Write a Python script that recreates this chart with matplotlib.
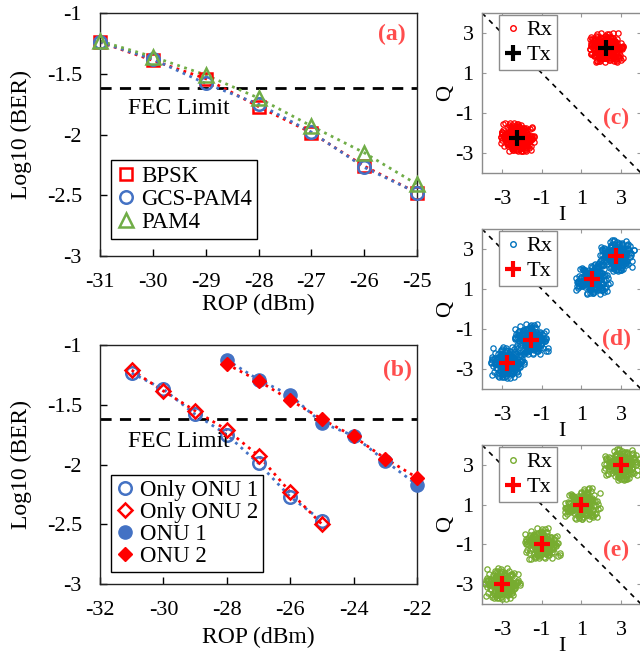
import numpy as np
import matplotlib
matplotlib.use('Agg')
import matplotlib.pyplot as plt
from matplotlib.lines import Line2D

plt.rcParams['font.family'] = ['Liberation Serif', 'DejaVu Serif']
plt.rcParams['axes.unicode_minus'] = False

# ---- panel (a): BER vs ROP for three formats ----
rop_a = [-31, -30, -29, -28, -27, -26, -25]
ber_bpsk = [-1.24, -1.39, -1.54, -1.77, -1.985, -2.26, -2.48]
ber_gcs = [-1.24, -1.38, -1.58, -1.75, -1.98, -2.27, -2.48]
ber_pam4 = [-1.23, -1.36, -1.51, -1.70, -1.93, -2.15, -2.41]

# ---- panel (b): single ONU vs two ONUs ----
rop_only = [-31, -30, -29, -28, -27, -26, -25]
ber_only1 = [-1.235, -1.37, -1.58, -1.75, -1.99, -2.27, -2.47]
ber_only2 = [-1.21, -1.385, -1.55, -1.71, -1.925, -2.23, -2.50]
rop_both = [-28, -27, -26, -25, -24, -23, -22]
ber_onu1 = [-1.125, -1.29, -1.42, -1.65, -1.76, -1.97, -2.17]
ber_onu2 = [-1.16, -1.30, -1.46, -1.62, -1.765, -1.95, -2.11]

fec_limit = -1.62

# ---- constellations (Tx symbol positions) ----
tx_c = [(-2.24, -2.24), (2.24, 2.24)]
tx_d = [(-2.75, -2.7), (-1.55, -1.55), (1.55, 1.5), (2.75, 2.65)]
tx_e = [(-3, -3), (-1, -1), (1, 1), (3, 3)]

# received noise offsets (unit spread), estimated from the clouds
noise_i = [0.12, -0.85, 1.43, -0.27, 0.66, -1.62, 0.31, -0.04, 1.05, -0.58, 0.89, -1.21,
           0.18, 2.05, -0.41, 0.73, -0.96, 0.25, -1.87, 0.52, 1.28, -0.13, -0.69, 0.94,
           -2.11, 0.37, -0.22, 1.61, -1.05, 0.08, 0.47, -0.33, 1.17, -0.78, -1.44, 0.61,
           0.03, -0.51, 1.83, -0.17, 0.79, -1.29, 0.42, -0.88, 0.15, 1.36, -0.62, -0.06,
           2.31, -1.13, 0.55, -0.29, 0.98, -1.71, 0.21, -0.45, 1.09, -0.92, 0.34, 0.71,
           -1.52, -0.11, 1.24, -0.37, 0.59, -2.02, 0.86, -0.65, 0.27, 1.51, -0.19, -1.01,
           0.44, 0.02, -0.74, 1.71, -0.48, 0.93, -1.36, 0.14, -0.24, 1.12, -0.83, 0.39,
           -1.58, 0.68, -0.09, 1.98, -0.55, 0.29, -1.18, 0.81, -0.35, 0.07, 1.33, -0.71,
           0.49, -1.93, 0.63, -0.15]
noise_q = [-0.44, 0.91, 0.17, -1.38, 0.62, -0.08, 1.27, -0.73, 0.35, -1.91, 0.54, 0.11,
           -0.97, 1.46, -0.26, 0.79, -1.12, 0.03, 2.14, -0.57, -0.31, 1.03, -1.66, 0.46,
           0.19, -0.84, 1.58, -0.12, 0.71, -1.25, -2.05, 0.38, -0.49, 1.19, 0.06, -0.68,
           0.95, -1.47, 0.24, 1.77, -0.36, -0.02, 0.83, -1.03, 0.58, -0.21, 1.35, -1.79,
           0.13, 0.67, -0.59, 1.09, -0.16, -1.31, 0.41, 2.26, -0.93, 0.28, -0.05, -1.56,
           0.74, -0.39, 1.41, -0.81, 0.09, 0.52, -1.09, 1.88, -0.27, -0.63, 0.33, -1.97,
           0.87, -0.14, 1.14, -0.46, 0.22, -1.22, 0.61, 0.99, -0.76, 0.04, 1.62, -0.53,
           -0.18, -1.41, 0.77, 0.31, -0.91, 1.22, -0.07, -0.66, 0.48, 1.69, -1.16, 0.16,
           -0.34, 0.85, -1.52, 0.36]

RED = '#ff0000'
BLUE = '#4472c4'
GREEN = '#70ad47'
LABEL_RED = '#ff4d4d'

fig = plt.figure(figsize=(6.4, 6.56), dpi=100)
W, H = 640, 656


def box(l, t, r, b):
    return [l / W, 1 - b / H, (r - l) / W, (b - t) / H]


def style_ber(ax, xlab_y):
    ax.set_ylim(-3, -1)
    ax.set_yticks([-3, -2.5, -2, -1.5, -1])
    ax.set_yticklabels(['-3', '-2.5', '-2', '-1.5', '-1'])
    ax.tick_params(direction='in', labelsize=16, length=5, width=1)
    ax.tick_params(axis='y', pad=13)
    ax.tick_params(axis='x', pad=12)
    for s in ax.spines.values():
        s.set_linewidth(1.0)
        s.set_color('#222222')
    ax.axhline(fec_limit, color='black', ls=(0, (4, 3)), lw=2)
    ax.set_xlabel('ROP (dBm)', fontsize=17)
    ax.set_ylabel('Log10 (BER)', fontsize=17)
    ax.yaxis.set_label_coords(-0.215, 0.5)
    ax.xaxis.set_label_coords(0.5, xlab_y)


# ---------- panel (a) ----------
ax = fig.add_axes(box(100, 13, 417, 256))
style_ber(ax, -0.155)
ax.set_xlim(-31, -25)
ax.set_xticks(rop_a)
ax.set_xticklabels([str(v) for v in rop_a])
ax.plot(rop_a, ber_bpsk, ls=':', color=RED, lw=2, zorder=2)
ax.plot(rop_a, ber_gcs, ls=':', color=BLUE, lw=2, zorder=2)
ax.plot(rop_a, ber_pam4, ls=':', color=GREEN, lw=2, zorder=2)
ax.plot(rop_a, ber_bpsk, ls='none', marker='s', ms=9, mfc='none', mec=RED, mew=1.8,
        label='BPSK', clip_on=False, zorder=3)
ax.plot(rop_a, ber_gcs, ls='none', marker='o', ms=9, mfc='none', mec=BLUE, mew=1.8,
        label='GCS-PAM4', clip_on=False, zorder=4)
ax.plot(rop_a, ber_pam4, ls='none', marker='^', ms=10, mfc='none', mec=GREEN, mew=1.8,
        label='PAM4', clip_on=False, zorder=5)
ax.text(-30.47, -1.79, 'FEC Limit', fontsize=17, va='center', ha='left')
ax.text(-25.48, -1.18, '(a)', fontsize=17, fontweight='bold', color=LABEL_RED,
        ha='center', va='center')
leg = ax.legend(loc='lower left', bbox_to_anchor=(0.035, 0.07), fontsize=16.5,
                frameon=True, fancybox=False, edgecolor='black', framealpha=1,
                handlelength=0.8, handletextpad=0.25, borderpad=0.25,
                labelspacing=0.1, borderaxespad=0)
leg.get_frame().set_linewidth(1.0)

# ---------- panel (b) ----------
ax = fig.add_axes(box(100, 345, 417, 584))
style_ber(ax, -0.18)
ax.set_xlim(-32, -22)
ax.set_xticks([-32, -30, -28, -26, -24, -22])
ax.set_xticklabels(['-32', '-30', '-28', '-26', '-24', '-22'])
ax.plot(rop_only, ber_only1, ls=':', color=BLUE, lw=2, zorder=2)
ax.plot(rop_only, ber_only2, ls=':', color=RED, lw=2, zorder=2)
ax.plot(rop_both, ber_onu1, ls=':', color=BLUE, lw=2, zorder=2)
ax.plot(rop_both, ber_onu2, ls=':', color=RED, lw=2, zorder=2)
ax.plot(rop_only, ber_only1, ls='none', marker='o', ms=9, mfc='none', mec=BLUE, mew=1.8,
        label='Only ONU 1', clip_on=False, zorder=3)
ax.plot(rop_only, ber_only2, ls='none', marker='D', ms=7.5, mfc='none', mec=RED, mew=1.8,
        label='Only ONU 2', clip_on=False, zorder=4)
ax.plot(rop_both, ber_onu1, ls='none', marker='o', ms=9.5, mfc=BLUE, mec=BLUE,
        label='ONU 1', clip_on=False, zorder=3)
ax.plot(rop_both, ber_onu2, ls='none', marker='D', ms=7.5, mfc=RED, mec=RED,
        label='ONU 2', clip_on=False, zorder=4)
ax.text(-31.13, -1.81, 'FEC Limit', fontsize=17, va='center', ha='left')
ax.text(-22.63, -1.21, '(b)', fontsize=17, fontweight='bold', color=LABEL_RED,
        ha='center', va='center')
leg = ax.legend(loc='lower left', bbox_to_anchor=(0.035, 0.05), fontsize=16.5,
                frameon=True, fancybox=False, edgecolor='black', framealpha=1,
                handlelength=0.8, handletextpad=0.25, borderpad=0.2,
                labelspacing=0.05, borderaxespad=0)
leg.get_frame().set_linewidth(1.0)


# ---------- constellation panels ----------
def cloud(centers, sx, sy, shifts):
    xs, ys = [], []
    ni = np.array(noise_i)
    nq = np.array(noise_q)
    for k, (cx, cy) in enumerate(centers):
        for shift in shifts:
            xs.append(cx + sx * ni)
            ys.append(cy + sy * np.roll(nq, shift + 11 * k))
    return np.concatenate(xs), np.concatenate(ys)


def constellation(rect, centers, rx_color, tx_color, tag, tag_y, sx, sy, shifts):
    ax = fig.add_axes(box(*rect))
    ax.set_xlim(-4, 4)
    ax.set_ylim(-4, 4)
    ax.set_xticks([-3, -1, 1, 3])
    ax.set_yticks([-3, -1, 1, 3])
    ax.set_xticklabels(['-3', '-1', '1', '3'])
    ax.set_yticklabels(['-3', '-1', '1', '3'])
    ax.tick_params(direction='in', labelsize=16, length=3, width=0.8,
                   color='#999999', top=True, right=True)
    ax.tick_params(axis='x', pad=12)
    ax.tick_params(axis='y', pad=6)
    for s in ax.spines.values():
        s.set_color('#8c8c8c')
        s.set_linewidth(1.0)
    ax.plot([-4, 4], [4, -4], color='black', ls=(0, (3, 3)), lw=1.2, zorder=1)
    xs, ys = cloud(centers, sx, sy, shifts)
    ax.plot(xs, ys, ls='none', marker='o', ms=3.8, mfc='none', mec=rx_color,
            mew=0.9, zorder=2)
    tx_x = [c[0] for c in centers]
    tx_y = [c[1] for c in centers]
    ax.plot(tx_x, tx_y, ls='none', marker='+', ms=12, mew=3, color=tx_color, zorder=3)
    ax.text(2.75, tag_y, tag, fontsize=17, fontweight='bold', color=LABEL_RED,
            ha='center', va='center')
    ax.set_xlabel('I', fontsize=16, labelpad=-2)
    ax.set_ylabel('Q', fontsize=16, labelpad=0)
    handles = [Line2D([], [], ls='none', marker='o', ms=4, mfc='none', mec=rx_color, mew=1),
               Line2D([], [], ls='none', marker='+', ms=12, mew=3, color=tx_color)]
    leg = ax.legend(handles, ['Rx', 'Tx'], loc='upper left', bbox_to_anchor=(0.11, 0.985),
                    fontsize=16, frameon=True, fancybox=False, edgecolor='#8c8c8c',
                    framealpha=1, handlelength=0.8, handletextpad=0.2, borderpad=0.2,
                    labelspacing=0.2, borderaxespad=0)
    leg.get_frame().set_linewidth(1.0)
    return ax


constellation((482, 13, 641, 173), tx_c, '#ff0000', 'black', '(c)', -1.25,
              0.38, 0.33, (0, 29, 61))
constellation((482, 229, 641, 389), tx_d, '#0072bd', '#ff0000', '(d)', -1.5,
              0.38, 0.36, (0, 43))
constellation((482, 445, 641, 604), tx_e, '#77ac30', '#ff0000', '(e)', -1.3,
              0.4, 0.36, (0, 43))

fig.savefig('out.png', dpi=100)
